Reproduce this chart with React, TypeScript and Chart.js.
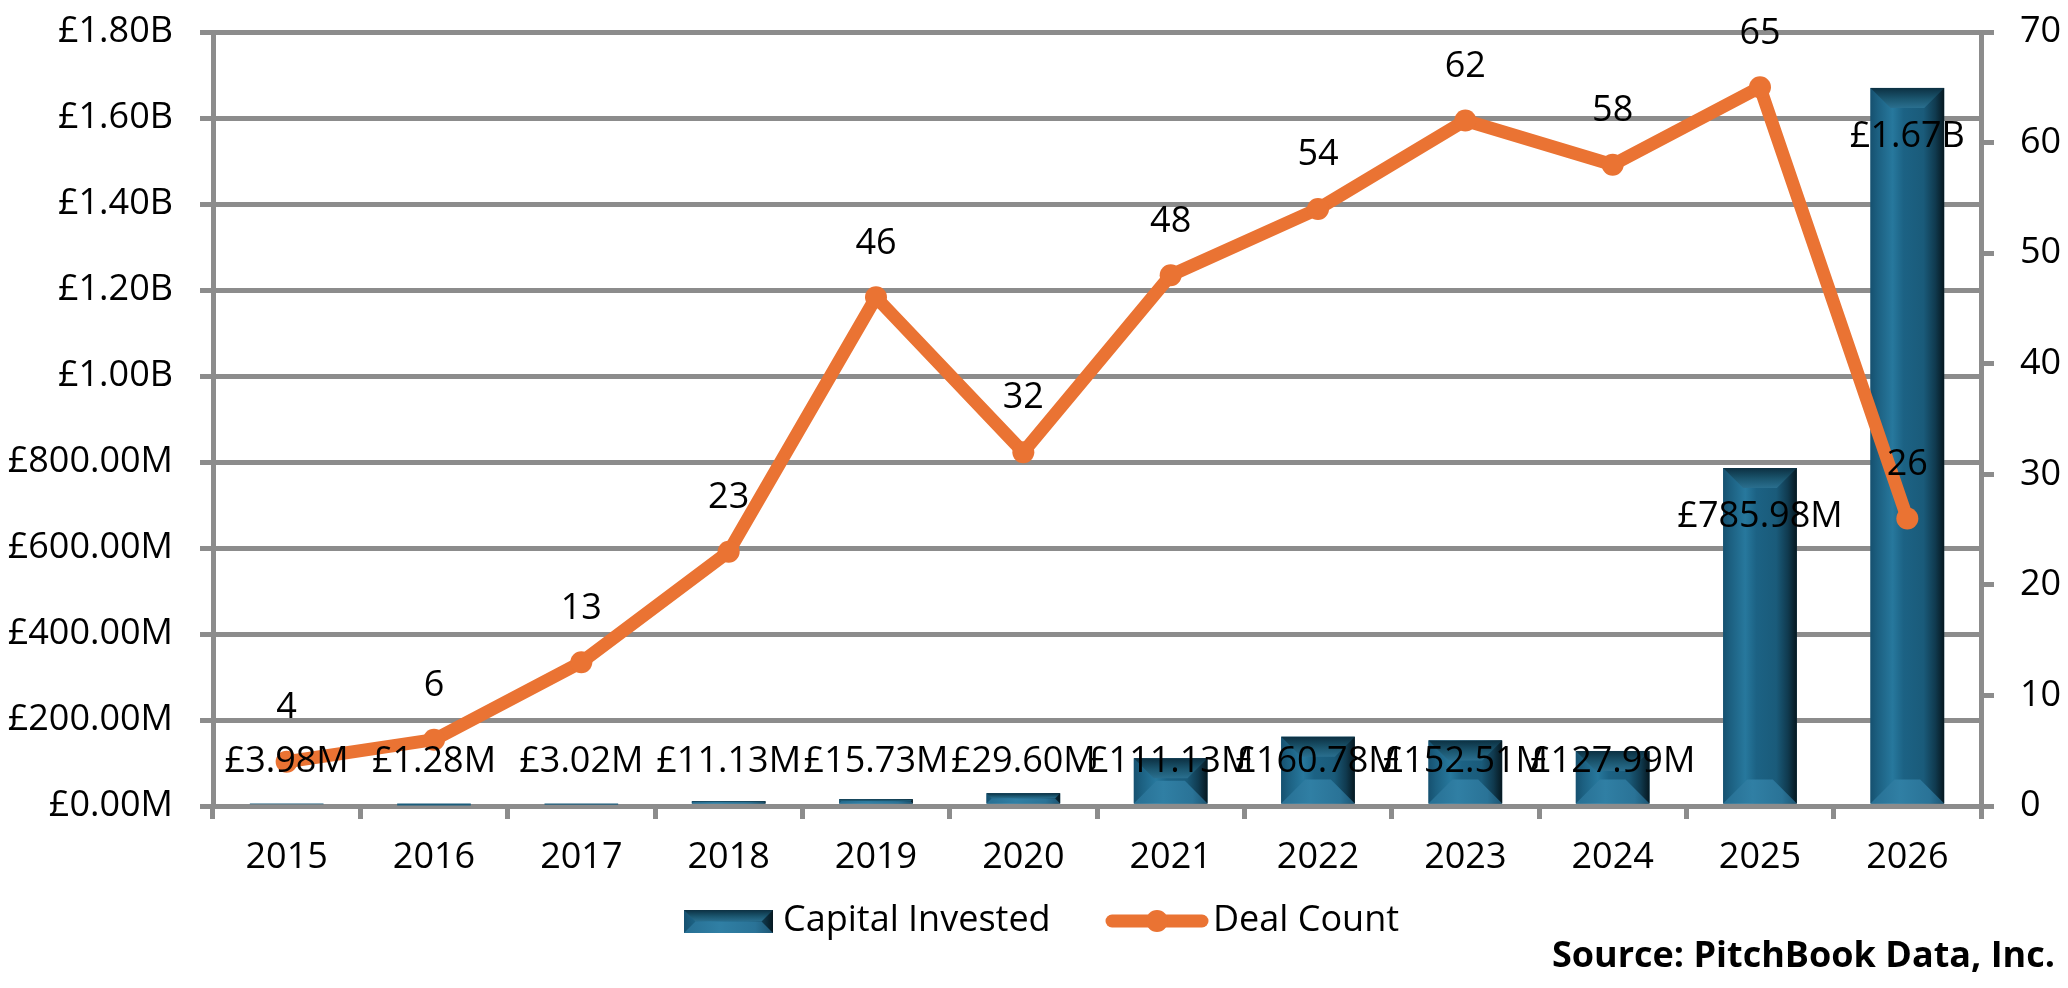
import React, { useEffect, useRef } from 'react';
import { Chart, registerables } from 'chart.js';

Chart.register(...registerables);

// values (capital in £ millions)
const years = ['2015', '2016', '2017', '2018', '2019', '2020', '2021', '2022', '2023', '2024', '2025', '2026'];
const capitalInvested = [3.98, 1.28, 3.02, 11.13, 15.73, 29.6, 111.13, 160.78, 152.51, 127.99, 785.98, 1670];
const dealCount = [4, 6, 13, 23, 46, 32, 48, 54, 62, 58, 65, 26];

const GRID = '#8c8c8c';
const ORANGE = '#ea7333';
const FONT = "'Open Sans', sans-serif";

const fmtMoney = (v: number) => (v >= 1000 ? '£' + (v / 1000).toFixed(2) + 'B' : '£' + v.toFixed(2) + 'M');

function drawBevel(ctx: CanvasRenderingContext2D, l: number, t: number, r: number, b: number) {
  const w = r - l;
  const h = b - t;
  if (h <= 0 || w <= 0) return;
  const body = ctx.createLinearGradient(l, 0, r, 0);
  body.addColorStop(0, '#165170');
  body.addColorStop(0.1, '#1c6081');
  body.addColorStop(0.3, '#27789d');
  body.addColorStop(0.45, '#1c6284');
  body.addColorStop(0.72, '#1a5b7a');
  body.addColorStop(0.88, '#103a4f');
  body.addColorStop(1, '#061820');
  ctx.fillStyle = body;
  ctx.fillRect(l, t, w, h);

  const dTop = Math.min(20, h / 2, w / 2);
  const topG = ctx.createLinearGradient(0, t, 0, t + dTop);
  topG.addColorStop(0, '#0c3042');
  topG.addColorStop(0.55, '#1b566f');
  topG.addColorStop(1, '#2a6f8f');
  ctx.fillStyle = topG;
  ctx.beginPath();
  ctx.moveTo(l, t);
  ctx.lineTo(r, t);
  ctx.lineTo(r - dTop, t + dTop);
  ctx.lineTo(l + dTop, t + dTop);
  ctx.closePath();
  ctx.fill();

  const dBot = Math.min(24, h / 2, w / 2);
  const botG = ctx.createLinearGradient(l, 0, r, 0);
  botG.addColorStop(0, '#276f93');
  botG.addColorStop(0.4, '#307fa4');
  botG.addColorStop(0.8, '#2a7397');
  botG.addColorStop(1, '#1d5573');
  ctx.fillStyle = botG;
  ctx.beginPath();
  ctx.moveTo(l, b);
  ctx.lineTo(r, b);
  ctx.lineTo(r - dBot, b - dBot);
  ctx.lineTo(l + dBot, b - dBot);
  ctx.closePath();
  ctx.fill();
}

const bevelPlugin = {
  id: 'bevelBars',
  afterDatasetDraw(chart: any, args: any) {
    if (args.index !== 0) return;
    const ctx: CanvasRenderingContext2D = chart.ctx;
    ctx.save();
    args.meta.data.forEach((bar: any) => {
      const { x, y, base, width } = bar.getProps(['x', 'y', 'base', 'width'], true);
      drawBevel(ctx, x - width / 2, y, x + width / 2, base);
    });
    ctx.restore();
  },
};

const labelPlugin = {
  id: 'valueLabels',
  afterDatasetsDraw(chart: any) {
    const ctx: CanvasRenderingContext2D = chart.ctx;
    const area = chart.chartArea;
    ctx.save();
    ctx.font = `36px ${FONT}`;
    ctx.fillStyle = '#000';
    ctx.textAlign = 'center';
    ctx.textBaseline = 'middle';
    chart.getDatasetMeta(0).data.forEach((bar: any, i: number) => {
      const y = Math.min(bar.y + 49, area.bottom - 44);
      ctx.fillText(fmtMoney(capitalInvested[i]), bar.x, y);
    });
    chart.getDatasetMeta(1).data.forEach((pt: any, i: number) => {
      ctx.fillText(String(dealCount[i]), pt.x, pt.y - 54);
    });
    ctx.restore();
  },
};

const legendPlugin = {
  id: 'legendSource',
  afterDraw(chart: any) {
    const ctx: CanvasRenderingContext2D = chart.ctx;
    const ly = 921;
    ctx.save();
    drawBevel(ctx, 684, 910, 773, 933);
    ctx.font = `36px ${FONT}`;
    ctx.fillStyle = '#000';
    ctx.textAlign = 'left';
    ctx.textBaseline = 'middle';
    ctx.fillText('Capital Invested', 783, ly);

    ctx.strokeStyle = ORANGE;
    ctx.lineWidth = 13;
    ctx.lineCap = 'round';
    ctx.beginPath();
    ctx.moveTo(1112, ly);
    ctx.lineTo(1202, ly);
    ctx.stroke();
    ctx.fillStyle = ORANGE;
    ctx.beginPath();
    ctx.arc(1157, ly, 11, 0, Math.PI * 2);
    ctx.fill();

    ctx.fillStyle = '#000';
    ctx.fillText('Deal Count', 1213, ly);

    ctx.font = `bold 36px ${FONT}`;
    ctx.textAlign = 'right';
    ctx.fillText('Source: PitchBook Data, Inc.', 2055, 957);
    ctx.restore();
  },
};

// keep the plot area where the reference has it
const fitVertical = (width: number) => (s: any) => {
  s.width = width;
  s.paddingTop = 0;
  s.paddingBottom = 0;
};

const App: React.FC = () => {
  const canvasRef = useRef<HTMLCanvasElement | null>(null);
  const chartRef = useRef<Chart | null>(null);

  useEffect(() => {
    if (!canvasRef.current) return;
    const ctx = canvasRef.current.getContext('2d');
    if (!ctx) return;
    if (chartRef.current) chartRef.current.destroy();

    Chart.defaults.font.family = FONT;
    Chart.defaults.font.size = 36;
    Chart.defaults.color = '#000';

    chartRef.current = new Chart(ctx, {
      type: 'bar',
      data: {
        labels: years,
        datasets: [
          {
            type: 'bar',
            label: 'Capital Invested',
            data: capitalInvested,
            backgroundColor: '#1b5d7c',
            yAxisID: 'y',
            categoryPercentage: 1,
            barPercentage: 0.5,
            order: 2,
          },
          {
            type: 'line',
            label: 'Deal Count',
            data: dealCount,
            borderColor: ORANGE,
            backgroundColor: ORANGE,
            borderWidth: 13,
            borderCapStyle: 'round',
            borderJoinStyle: 'round',
            pointRadius: 11,
            pointHoverRadius: 11,
            pointBorderWidth: 0,
            pointBackgroundColor: ORANGE,
            tension: 0,
            yAxisID: 'y1',
            order: 1,
          },
        ],
      } as any,
      options: {
        animation: false,
        responsive: false,
        devicePixelRatio: 1,
        events: [],
        layout: { padding: { top: 32, bottom: 102, left: 0, right: 0 } },
        plugins: {
          legend: { display: false },
          tooltip: { enabled: false },
        },
        scales: {
          x: {
            grid: { drawOnChartArea: false, tickLength: 13, lineWidth: 5, color: GRID, offset: true },
            border: { display: true, color: GRID, width: 5 },
            ticks: { padding: 17, color: '#000' },
            afterFit: (s: any) => { s.height = 80; },
          },
          y: {
            position: 'left',
            min: 0,
            max: 1800,
            ticks: { stepSize: 200, padding: 27, callback: (v: any) => fmtMoney(Number(v)) },
            grid: { color: GRID, lineWidth: 5, tickLength: 13 },
            border: { display: true, color: GRID, width: 5 },
            afterFit: fitVertical(213),
          },
          y1: {
            position: 'right',
            min: 0,
            max: 70,
            ticks: { stepSize: 10, padding: 26 },
            grid: { drawOnChartArea: false, color: GRID, lineWidth: 5, tickLength: 13 },
            border: { display: true, color: GRID, width: 5 },
            afterFit: fitVertical(87),
          },
        },
      } as any,
      plugins: [bevelPlugin, labelPlugin, legendPlugin],
    });

    return () => {
      if (chartRef.current) {
        chartRef.current.destroy();
        chartRef.current = null;
      }
    };
  }, []);

  return (
    <div style={{ position: 'fixed', left: 0, top: 0, width: 2068, height: 988, background: '#fff' }}>
      <canvas ref={canvasRef} width={2068} height={988} style={{ display: 'block' }}></canvas>
    </div>
  );
};

export default App;
